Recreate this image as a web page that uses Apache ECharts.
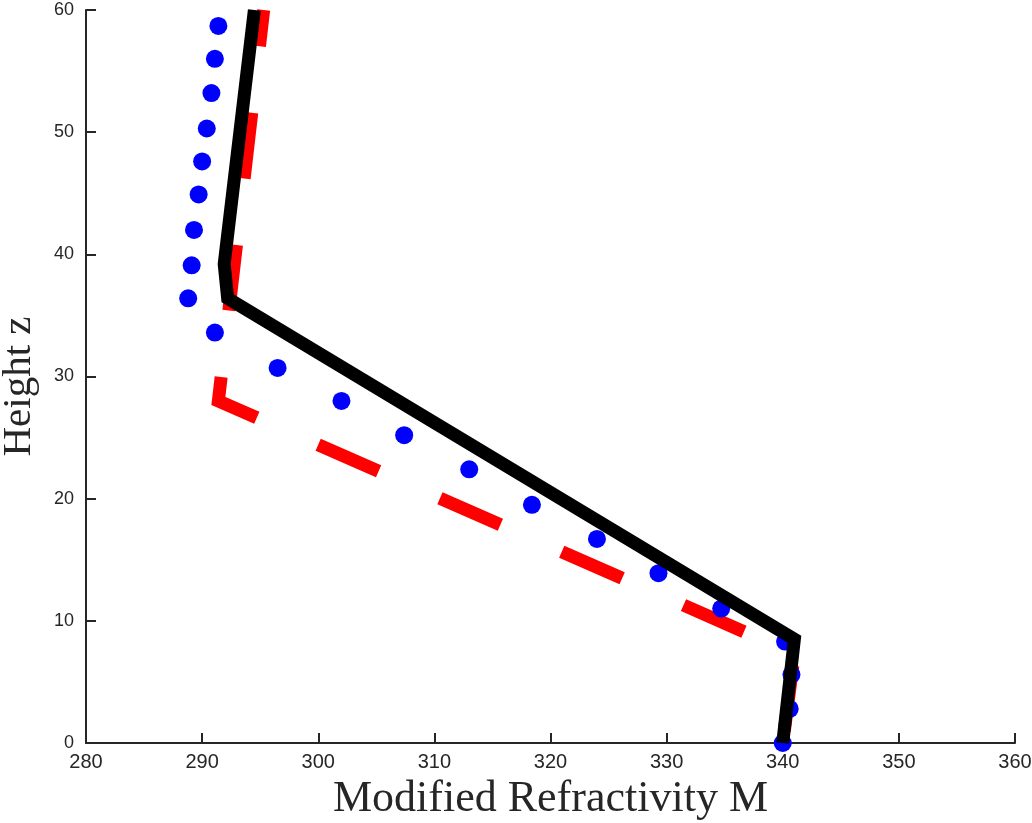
<!DOCTYPE html>
<html>
<head>
<meta charset="utf-8">
<script src="https://cdn.jsdelivr.net/npm/echarts@6/dist/echarts.min.js"></script>
<style>
  html, body { margin: 0; padding: 0; background: #fff; }
  #chart { width: 1032px; height: 823px; }
</style>
</head>
<body>
<div id="chart"></div>
<script>
// 坐标轴刻度
const xTicks = [280, 290, 300, 310, 320, 330, 340, 350, 360];
const yTicks = [0, 10, 20, 30, 40, 50, 60];

// 黑色实线
const blackM = [340, 341, 292.2, 291.9, 294.5];
const blackZ = [0, 8.5, 36.4, 39.2, 60];

// 红色虚线
const redM = [340, 341, 291.4, 295.3];
const redZ = [0, 7.3, 28.0, 60];

// 蓝色圆点
const blueM = [340.0, 340.6, 340.75, 340.2, 334.7, 329.3, 324.0, 318.4, 313.0, 307.4, 302.0,
               296.5, 291.1, 288.8, 289.1, 289.3, 289.7, 290.0, 290.4, 290.8, 291.1, 291.4];
const blueZ = [0, 2.8, 5.6, 8.3, 11.0, 13.9, 16.7, 19.5, 22.4, 25.2, 28.0,
               30.7, 33.6, 36.4, 39.1, 42.0, 44.9, 47.6, 50.3, 53.2, 56.0, 58.7];

const zip = (a, b) => a.map((v, i) => [v, b[i]]);

const axisColor = '#262626';
const chart = echarts.init(document.getElementById('chart'), null, { renderer: 'canvas' });

chart.setOption({
  animation: false,
  backgroundColor: '#fff',
  grid: { left: 86, right: 17, top: 10, bottom: 80, containLabel: false, outerBoundsMode: 'none' },
  xAxis: {
    type: 'value',
    min: xTicks[0],
    max: xTicks[xTicks.length - 1],
    interval: 10,
    name: 'Modified Refractivity M',
    nameLocation: 'middle',
    nameGap: 34,
    nameTextStyle: { fontFamily: 'Liberation Serif', fontSize: 44, color: axisColor },
    axisLine: { onZero: false, lineStyle: { color: axisColor, width: 2 } },
    axisTick: { inside: true, length: 10, lineStyle: { color: axisColor, width: 2 } },
    axisLabel: { fontFamily: 'Liberation Sans', fontSize: 20, color: axisColor, margin: 9 },
    splitLine: { show: false }
  },
  yAxis: {
    type: 'value',
    min: yTicks[0],
    max: yTicks[yTicks.length - 1],
    interval: 10,
    name: 'Height z',
    nameLocation: 'middle',
    nameGap: 46,
    nameTextStyle: { fontFamily: 'Liberation Serif', fontSize: 41, color: axisColor, padding: [0, 20, 0, 0] },
    axisLine: { onZero: false, lineStyle: { color: axisColor, width: 2 } },
    axisTick: { inside: true, length: 10, lineStyle: { color: axisColor, width: 2 } },
    axisLabel: { fontFamily: 'Liberation Sans', fontSize: 18, color: axisColor, margin: 12 },
    splitLine: { show: false }
  },
  series: [
    {
      name: 'red',
      type: 'line',
      data: zip(redM, redZ),
      showSymbol: false,
      z: 2,
      lineStyle: { color: '#ff0000', width: 13, type: [66, 67], dashOffset: 121, join: 'miter', cap: 'butt' }
    },
    {
      name: 'blue',
      type: 'scatter',
      data: zip(blueM, blueZ),
      symbol: 'circle',
      symbolSize: 18,
      z: 3,
      itemStyle: { color: '#0000ff', opacity: 1 }
    },
    {
      name: 'black',
      type: 'line',
      data: zip(blackM, blackZ),
      showSymbol: false,
      z: 4,
      lineStyle: { color: '#000000', width: 13, join: 'miter', cap: 'butt' }
    }
  ]
});
</script>
</body>
</html>
